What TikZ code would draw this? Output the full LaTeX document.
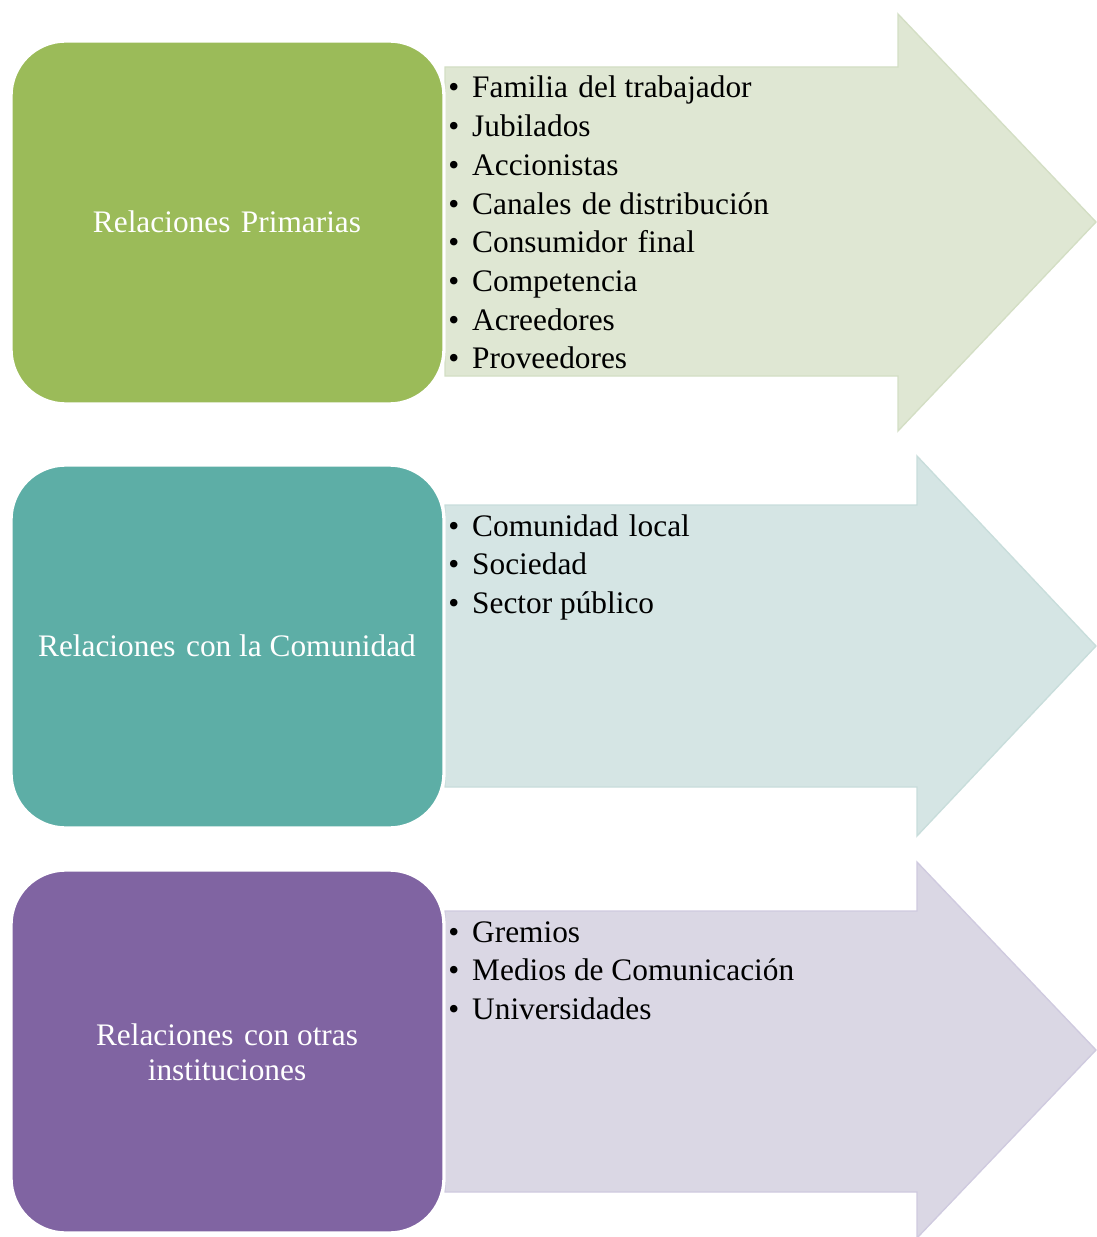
\documentclass[tikz,border=0pt]{standalone}
\usepackage{fontspec}
\setmainfont{Liberation Serif}
\definecolor{gA}{HTML}{9BBB59}
\definecolor{gL}{HTML}{DFE7D3}
\definecolor{gB}{HTML}{D3DEC4}
\definecolor{tA}{HTML}{5DAEA6}
\definecolor{tL}{HTML}{D5E5E4}
\definecolor{tB}{HTML}{C8DDDB}
\definecolor{pA}{HTML}{8064A2}
\definecolor{pL}{HTML}{DAD7E4}
\definecolor{pB}{HTML}{CFCADF}
\tikzset{
  relbox/.style={draw=white, line width=2.5pt, rounded corners=41pt},
  reltext/.style={text=white, font=\fontsize{23.5pt}{26pt}\selectfont, align=center, inner sep=0pt},
  listtext/.style={anchor=base west, inner sep=0pt, font=\fontsize{23.5pt}{29pt}\selectfont},
  arrowshape/.style={line width=1pt, line join=miter}
}
\newcommand{\itm}[1]{\makebox[18pt][l]{\textbullet}#1}
\newcommand{\wsp}{\ \hspace{2pt}}
\begin{document}
\begin{tikzpicture}[x=0.75pt,y=-0.75pt]
\useasboundingbox (0,0) rectangle (1096,1237);
% arrows
\filldraw[arrowshape, fill=gL, draw=gB] (445,67) -- (898,67) -- (898,14) -- (1096,222) -- (898,431) -- (898,376) -- (445,376) -- cycle;
\filldraw[arrowshape, fill=tL, draw=tB] (445,505) -- (917,505) -- (917,456) -- (1096,646) -- (917,836) -- (917,787) -- (445,787) -- cycle;
\filldraw[arrowshape, fill=pL, draw=pB] (445,911) -- (917,911) -- (917,862) -- (1096,1050) -- (917,1238) -- (917,1192) -- (445,1192) -- cycle;
% boxes
\filldraw[relbox, fill=gA] (11,41) rectangle (444,404);
\filldraw[relbox, fill=tA] (11,465) rectangle (444,828);
\filldraw[relbox, fill=pA] (11,870) rectangle (444,1233);
% box labels
\node[reltext] (r1) at (227,222) {Relaciones\wsp Primarias};
\node[reltext] (r2) at (227,646) {Relaciones\wsp con la Comunidad};
\node[reltext] (r3) at (227,1052) {Relaciones\wsp con otras\\instituciones};
% lists
\foreach \t [count=\i] in {Familia\wsp del trabajador, Jubilados, Accionistas, Canales\wsp de distribución, Consumidor\wsp final, Competencia, Acreedores, Proveedores}
  \node[listtext] (a\i) at (448,{98+38.7*(\i-1)}) {\itm{\t}};
\foreach \t [count=\i] in {Comunidad\wsp local, Sociedad, Sector público}
  \node[listtext] (b\i) at (448,{536+38.7*(\i-1)}) {\itm{\t}};
\foreach \t [count=\i] in {Gremios, Medios de Comunicación, Universidades}
  \node[listtext] (c\i) at (448,{942+38.7*(\i-1)}) {\itm{\t}};
\end{tikzpicture}
\end{document}
